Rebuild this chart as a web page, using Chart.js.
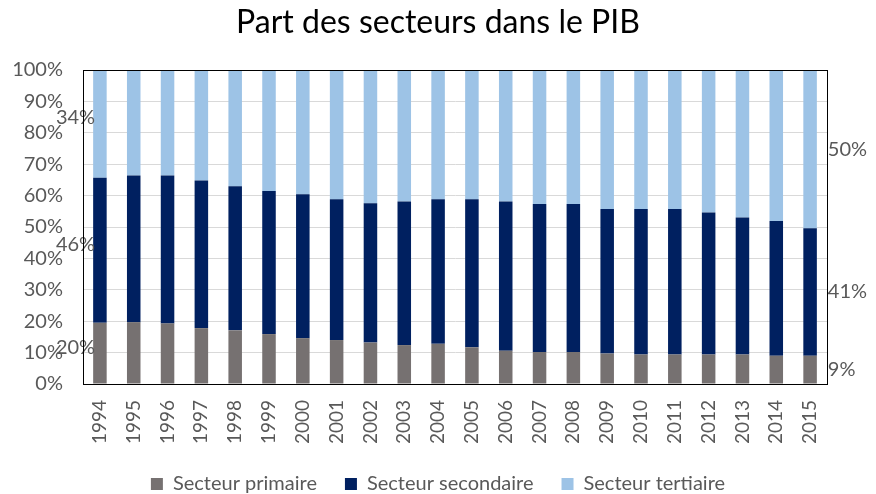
<!DOCTYPE html>
<html>
<head>
<meta charset="utf-8">
<script src="https://cdn.jsdelivr.net/npm/chart.js@4"></script>
<style>
  html, body { margin: 0; padding: 0; background: #fff; }
  #wrap { width: 876px; height: 494px; position: relative; }
</style>
</head>
<body>
<div id="wrap"><canvas id="c"></canvas></div>
<script>
const years = ['1994','1995','1996','1997','1998','1999','2000','2001','2002','2003','2004','2005','2006','2007','2008','2009','2010','2011','2012','2013','2014','2015'];
const primaire   = [19.5,19.7,19.3,17.8,17.1,15.9,14.6,14.0,13.2,12.4,12.8,11.7,10.6,10.2,10.2,9.7,9.4,9.4,9.4,9.4,9.0,9.0];
const secondaire = [46.2,46.7,47.1,47.0,45.9,45.6,45.8,44.8,44.4,45.7,46.0,47.1,47.5,47.1,47.1,46.0,46.3,46.3,45.2,43.6,42.9,40.6];
const tertiaire  = [34.3,33.6,33.6,35.2,37.0,38.5,39.6,41.2,42.4,41.9,41.2,41.2,41.9,42.7,42.7,44.3,44.3,44.3,45.4,47.0,48.1,50.4];
const yTicks = [0,10,20,30,40,50,60,70,80,90,100];

const FONT = 'Lato, "Open Sans", sans-serif';
const GREY = '#595959';

// labels for first and last bar, on the outside of the bars
const endLabels = {
  id: 'endLabels',
  afterDatasetsDraw(chart) {
    const ctx = chart.ctx;
    ctx.save();
    ctx.font = '20px ' + FONT;
    ctx.fillStyle = GREY;
    ctx.textBaseline = 'middle';
    chart.data.datasets.forEach((ds, i) => {
      const meta = chart.getDatasetMeta(i);
      const first = meta.data[0], last = meta.data[meta.data.length - 1];
      const v0 = ds.data[0], v1 = ds.data[ds.data.length - 1];
      ctx.textAlign = 'right';
      ctx.fillText(Math.round(v0) + '%', first.x - first.width / 2 + 2, (first.y + first.base) / 2 - 6);
      ctx.textAlign = 'left';
      ctx.fillText(Math.round(v1) + '%', last.x + last.width / 2 + 11, (last.y + last.base) / 2);
    });
    ctx.restore();
  }
};

const frame = {
  id: 'frame',
  afterDatasetsDraw(chart) {
    const a = chart.chartArea, ctx = chart.ctx;
    ctx.save();
    ctx.strokeStyle = '#000';
    ctx.lineWidth = 1;
    ctx.strokeRect(Math.round(a.left) + 0.5, Math.round(a.top) + 0.5, Math.round(a.right - a.left), Math.round(a.bottom - a.top));
    ctx.restore();
  }
};

new Chart(document.getElementById('c'), {
  type: 'bar',
  data: {
    labels: years,
    datasets: [
      { label: 'Secteur primaire', data: primaire, backgroundColor: '#767171' },
      { label: 'Secteur secondaire', data: secondaire, backgroundColor: '#002060' },
      { label: 'Secteur tertiaire', data: tertiaire, backgroundColor: '#9DC3E6' }
    ]
  },
  options: {
    responsive: true,
    maintainAspectRatio: false,
    animation: false,
    layout: { padding: { left: 0, right: 0, top: 0, bottom: -10 } },
    datasets: { bar: { categoryPercentage: 1, barPercentage: 0.4 } },
    plugins: {
      title: {
        display: true,
        text: 'Part des secteurs dans le PIB',
        color: '#000',
        font: { family: FONT, size: 32, weight: 'normal' },
        padding: { top: 3, bottom: 28.6 }
      },
      legend: {
        position: 'bottom',
        labels: {
          color: GREY,
          font: { family: FONT, size: 20 },
          boxWidth: 12, boxHeight: 12,
          padding: 28
        }
      },
      tooltip: { enabled: false }
    },
    scales: {
      x: {
        stacked: true,
        grid: { display: false },
        border: { color: '#000' },
        ticks: {
          color: GREY, font: { family: FONT, size: 19 },
          minRotation: 90, maxRotation: 90, padding: 8
        },
        afterFit(s) { s.height = 62; }
      },
      y: {
        stacked: true,
        min: 0, max: 100,
        afterBuildTicks(s) { s.ticks = yTicks.map(v => ({ value: v })); },
        grid: { color: '#d9d9d9', drawTicks: false },
        border: { color: '#000' },
        ticks: {
          color: GREY, font: { family: FONT, size: 20 },
          padding: 20,
          callback: v => v + '%'
        },
        afterFit(s) { s.width = 83; }
      },
      yRight: {
        position: 'right',
        grid: { display: false },
        border: { display: false },
        ticks: { display: false },
        afterFit(s) { s.width = 49; }
      }
    }
  },
  plugins: [endLabels, frame]
});
</script>
</body>
</html>
